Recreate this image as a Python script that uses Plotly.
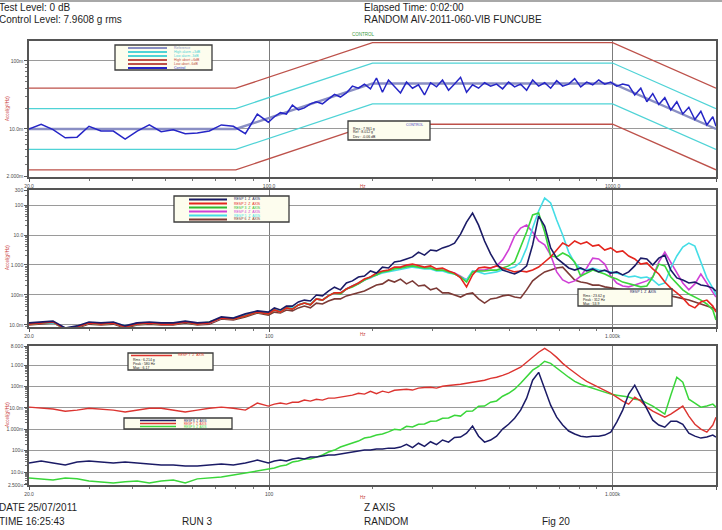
import math
import plotly.graph_objects as go

# ---------------------------------------------------------------------------
# Spectrum frequency lines (Hz) shared by every trace
FREQ_HZ = [20.0, 21.7, 23.5, 25.5, 27.6, 29.9, 32.4, 35.2, 38.1, 41.3,
           44.8, 48.5, 52.6, 57.0, 61.8, 67.0, 72.6, 78.7, 85.3, 92.4,
           99.5, 103.6, 107.9, 112.3, 116.9, 121.7, 126.7, 131.9, 137.3, 143.0,
           148.8, 155.0, 161.3, 167.9, 174.8, 182.0, 189.5, 197.3, 205.4, 213.8,
           222.6, 231.7, 241.3, 251.2, 261.5, 272.2, 283.4, 295.1, 307.2, 319.8,
           333.0, 346.6, 360.9, 375.7, 391.1, 407.2, 423.9, 441.4, 459.5, 478.4,
           498.0, 518.5, 539.8, 562.0, 585.1, 609.1, 634.2, 660.2, 687.4, 715.6,
           745.0, 775.6, 807.5, 840.7, 875.3, 911.2, 948.7, 987.7, 1028, 1070,
           1114, 1160, 1208, 1258, 1309, 1363, 1419, 1477, 1538, 1601,
           1667, 1736, 1807, 1881, 1958, 2000]

# Control channel PSD, dB re 1 g^2/Hz
CONTROL_DB = [-20.0, -19.3, -20.1, -21.3, -21.2, -19.6, -20.3, -20.3, -21.5, -20.3,
              -19.4, -20.4, -20.1, -20.7, -20.6, -20.3, -19.4, -19.6, -20.7, -17.8,
              -19.0, -18.2, -17.6, -17.8, -16.5, -17.2, -16.9, -16.3, -16.0, -16.3,
              -15.6, -14.9, -15.3, -14.7, -13.7, -14.0, -13.4, -14.1, -12.5, -14.6,
              -12.8, -13.7, -14.7, -13.1, -14.0, -13.5, -15.0, -13.2, -13.8, -12.8,
              -14.3, -13.4, -12.4, -14.6, -13.5, -14.0, -13.2, -13.7, -13.4, -14.1,
              -13.1, -13.8, -13.4, -14.3, -12.8, -13.7, -13.2, -14.0, -12.9, -13.7,
              -13.4, -12.6, -13.8, -13.1, -13.5, -12.8, -13.4, -13.1, -13.7, -13.4,
              -13.6, -15.0, -14.0, -16.0, -14.8, -16.4, -15.4, -17.2, -16.0, -17.8,
              -16.8, -18.6, -17.4, -19.4, -18.2, -19.6]

# Test reference profile and tolerance bands
PROFILE_HZ = [20, 80, 200, 1000, 2000]
PROFILE_DB = [-20.0, -20.0, -13.3, -13.3, -20.0]
ALARM_DB = 3.0
ABORT_DB = 6.0

# Response channels, middle plot (dB re 1 g^2/Hz)
MID_NAVY_DB = [-19.3, -19.0, -18.7, -21.0, -20.3, -19.0, -19.3, -19.0, -20.3, -19.3,
               -19.0, -19.3, -19.3, -18.7, -19.3, -19.0, -17.3, -17.7, -16.3, -15.3,
               -15.7, -14.3, -15.0, -13.7, -13.7, -12.3, -11.7, -12.0, -10.0, -10.3,
               -8.7, -7.4, -8.3, -6.0, -5.3, -4.0, -3.7, -2.0, -2.7, -0.7,
               -1.0, 1.0, 1.3, 2.0, 2.7, 4.3, 3.3, 5.0, 4.7, 5.7,
               6.3, 7.3, 10.3, 14.3, 17.3, 13.3, 8.0, 3.7, 0.3, -1.7,
               -2.3, -3.0, -2.0, -0.3, 6.7, 16.3, 13.0, 5.7, 2.3, 0.7,
               -1.0, -1.7, -1.0, -2.0, -1.3, -2.3, -1.7, -2.7, -2.3, -3.3,
               -2.3, -0.3, 2.3, 2.0, 0.0, 2.3, 3.3, -1.7, -4.3, -5.0,
               -6.0, -5.7, -6.7, -7.0, -7.7, -8.7]
MID_RED_DB = [-19.7, -19.3, -19.0, -21.3, -20.7, -19.3, -19.7, -19.3, -20.7, -19.7,
              -19.3, -19.7, -19.7, -19.0, -19.7, -19.3, -17.7, -18.0, -17.0, -15.7,
              -16.3, -15.0, -15.7, -14.3, -14.7, -13.3, -12.7, -13.3, -11.3, -11.7,
              -10.3, -9.3, -9.3, -8.0, -7.0, -6.0, -4.7, -4.0, -2.7, -2.0,
              -1.7, -0.7, -0.7, 0.0, 0.3, -0.3, -0.7, -0.3, -1.3, -1.0,
              -2.0, -2.7, -4.3, -7.3, -3.3, -1.0, -0.7, -1.0, -0.3, -1.0,
              -1.7, -2.3, -2.0, -2.3, -1.7, -0.7, 1.0, 2.7, 5.0, 7.3,
              6.3, 8.0, 7.0, 7.7, 6.3, 6.7, 5.0, 5.7, 4.3, 4.7,
              3.0, 2.0, 0.3, 0.7, -1.3, -3.0, -5.7, -7.7, -9.3, -11.0,
              -13.3, -14.3, -12.3, -11.7, -13.7, -15.7]
MID_CYAN_DB = [-19.7, -19.3, -19.3, -21.0, -20.7, -19.3, -19.7, -19.3, -20.3, -19.7,
               -19.3, -19.7, -19.3, -19.0, -19.7, -19.3, -17.7, -17.7, -16.7, -15.7,
               -16.0, -15.0, -15.3, -14.3, -14.3, -13.3, -12.7, -13.0, -11.3, -11.7,
               -10.3, -9.3, -9.3, -8.0, -7.0, -6.0, -5.0, -4.3, -3.3, -2.7,
               -2.3, -1.7, -1.3, -1.0, -0.7, -1.0, -1.3, -1.3, -2.0, -2.0,
               -2.7, -3.0, -4.0, -5.0, -2.0, -2.3, -3.0, -2.7, -2.3, -1.7,
               -1.3, -0.7, 1.0, 5.7, 12.3, 18.0, 22.3, 20.7, 15.0, 10.0,
               4.3, 0.7, -1.3, -1.7, -1.0, -1.7, -2.0, -2.3, -2.7, -3.3,
               -4.0, -3.7, -4.3, -4.0, -5.0, -6.7, -6.0, -1.0, 3.0, 6.0,
               7.3, 6.3, 1.0, -4.3, -7.7, -10.0]
MID_MAGENTA_DB = [-19.3, -19.3, -19.0, -21.0, -20.7, -19.3, -19.3, -19.3, -20.7, -19.3,
                  -19.3, -19.3, -19.7, -19.0, -19.3, -19.3, -17.7, -18.0, -16.7, -15.7,
                  -16.0, -15.0, -15.7, -14.3, -14.7, -13.3, -12.7, -13.3, -11.3, -11.7,
                  -10.3, -9.3, -9.7, -8.0, -7.0, -6.3, -5.0, -4.0, -3.3, -2.3,
                  -2.0, -1.0, -1.0, -0.3, -0.3, -0.7, -1.0, -1.0, -1.7, -1.7,
                  -2.3, -2.7, -3.7, -5.0, -2.3, -1.7, -1.7, -1.0, -0.3, 1.7,
                  5.0, 9.7, 12.3, 13.3, 11.0, 8.0, 6.7, 3.3, -2.3, -5.0,
                  -6.0, -5.3, -3.7, -1.0, 2.3, 2.0, 0.3, -3.7, -6.0, -7.0,
                  -7.3, -6.7, -6.0, -5.3, -4.0, 1.0, 4.3, 1.0, -2.7, -6.0,
                  -8.3, -6.3, -3.0, -6.0, -9.0, -10.7]
MID_GREEN_DB = [-19.7, -19.3, -19.0, -21.3, -20.7, -19.3, -19.7, -19.3, -20.7, -19.7,
                -19.3, -19.7, -19.7, -19.0, -19.7, -19.0, -17.7, -18.0, -17.0, -15.7,
                -16.3, -15.0, -15.7, -14.3, -14.7, -13.3, -12.7, -13.3, -11.3, -11.7,
                -10.3, -9.3, -9.7, -8.0, -7.3, -6.3, -5.0, -4.0, -3.3, -2.3,
                -2.0, -1.3, -1.0, -0.7, -0.3, -0.7, -1.0, -1.0, -1.7, -1.7,
                -2.3, -3.0, -4.0, -5.7, -2.3, -2.0, -2.0, -1.7, -1.7, -1.0,
                -0.3, 1.0, 6.0, 11.0, 16.7, 17.3, 11.0, 3.0, 2.7, 4.0,
                3.0, 1.0, -3.7, -2.7, -1.7, -2.3, -3.0, -4.0, -4.7, -5.7,
                -6.3, -6.7, -7.3, -7.0, -4.0, 0.3, -0.3, -4.0, -6.3, -8.3,
                -9.7, -10.7, -11.7, -13.0, -15.0, -18.3]
MID_BROWN_DB = [-20.0, -19.7, -19.3, -21.3, -21.0, -19.7, -20.0, -19.7, -21.0, -20.0,
                -19.7, -20.0, -20.0, -19.3, -20.0, -19.7, -18.0, -18.3, -17.3, -16.0,
                -16.7, -15.7, -16.0, -15.0, -15.3, -14.3, -13.7, -14.3, -12.7, -13.0,
                -12.0, -11.3, -11.3, -10.3, -9.7, -9.3, -8.7, -7.7, -6.7, -6.3,
                -5.0, -5.7, -4.7, -6.3, -5.3, -7.0, -6.7, -8.3, -7.7, -9.3,
                -9.3, -10.0, -10.7, -9.7, -9.3, -11.3, -12.7, -11.3, -11.0, -10.3,
                -10.0, -10.7, -11.0, -8.3, -5.3, -3.7, -2.3, -1.7, -1.0, -0.7,
                -3.0, -5.0, -5.7, -6.0, -6.7, -6.7, -7.3, -7.7, -8.0, -8.3,
                -8.3, -8.7, -9.0, -9.0, -9.3, -9.3, -10.0, -10.3, -10.7, -11.3,
                -11.7, -12.3, -13.0, -13.7, -14.3, -15.0]

# Response channels, lower plot (dB re 1 g^2/Hz)
LOW_RED_DB = [-19.6, -20.1, -20.5, -21.5, -21.0, -20.1, -20.5, -21.0, -21.9, -21.0,
              -20.1, -20.1, -21.0, -21.9, -21.0, -20.1, -19.6, -20.1, -21.0, -17.7,
              -19.1, -18.2, -17.7, -18.2, -17.3, -17.3, -16.3, -16.8, -15.9, -16.3,
              -15.4, -15.4, -14.9, -14.5, -14.0, -13.1, -13.5, -12.2, -13.3, -12.1,
              -12.8, -11.7, -11.4, -11.2, -11.6, -10.7, -10.4, -10.3, -10.7, -9.8,
              -9.5, -9.3, -8.9, -8.4, -7.9, -7.5, -7.0, -6.1, -5.6, -4.7,
              -3.7, -2.3, -0.9, 1.4, 3.7, 6.1, 7.9, 6.1, 3.7, 0.9,
              -1.4, -3.7, -5.6, -7.5, -8.9, -10.3, -11.7, -13.1, -14.9, -16.8,
              -18.2, -14.9, -16.8, -19.6, -21.5, -22.9, -24.3, -22.9, -21.0, -19.1,
              -23.8, -27.6, -29.9, -31.3, -28.0, -24.3]
LOW_GREEN_DB = [-52.8, -53.2, -53.7, -52.8, -53.2, -54.2, -54.6, -55.1, -54.6, -54.2,
                -55.1, -54.2, -53.7, -55.1, -53.2, -52.8, -52.3, -51.4, -50.4, -49.5,
                -48.6, -48.1, -47.2, -46.7, -45.3, -44.8, -43.9, -43.9, -43.0, -42.0,
                -40.6, -39.7, -38.3, -37.4, -36.4, -35.5, -34.1, -33.6, -32.7, -32.2,
                -31.2, -30.0, -30.3, -28.6, -28.9, -27.6, -27.5, -26.2, -26.1, -24.8,
                -24.7, -23.4, -23.8, -21.5, -21.4, -19.2, -19.1, -17.3, -16.7, -14.5,
                -13.1, -11.2, -8.4, -5.1, -2.3, -0.5, 1.9, 0.9, -1.4, -3.7,
                -5.6, -7.5, -8.9, -9.8, -10.7, -11.7, -12.6, -13.5, -14.0, -14.5,
                -14.9, -15.9, -16.3, -17.7, -19.1, -21.0, -22.9, -14.0, -5.6, -7.9,
                -15.9, -17.7, -19.6, -19.1, -18.2, -19.6]
LOW_NAVY_DB = [-45.8, -44.8, -45.8, -46.7, -45.3, -44.8, -45.3, -45.8, -45.3, -45.8,
               -46.2, -46.7, -46.7, -47.2, -47.2, -46.7, -46.2, -46.7, -45.8, -44.4,
               -45.8, -44.8, -44.4, -44.8, -43.9, -43.4, -43.9, -43.0, -43.0, -42.5,
               -42.0, -42.0, -41.6, -41.1, -40.6, -40.2, -39.7, -39.7, -39.2, -39.2,
               -38.8, -38.8, -38.3, -37.0, -38.6, -36.5, -38.0, -35.8, -37.2, -35.0,
               -36.0, -33.8, -33.6, -31.8, -28.5, -33.2, -36.0, -35.0, -33.2, -29.9,
               -27.6, -24.8, -21.0, -15.4, -7.0, -3.3, -10.7, -18.7, -24.3, -28.0,
               -30.8, -32.2, -33.2, -33.6, -33.2, -33.2, -32.7, -31.3, -26.6, -21.0,
               -13.5, -9.3, -14.9, -20.5, -25.7, -28.0, -29.0, -26.2, -26.2, -27.6,
               -31.8, -33.2, -34.1, -33.6, -32.7, -33.6]

# Axis tick labels
X_TICKS = [20, 100, 1000, 2000]
X_TEXT_TOP = ["20.0", "100.0", "1000.0", "2000.0"]
X_TEXT = ["20.0", "100", "1.000k", "2.000k"]
Y1_TICKS = [0.002, 0.01, 0.1, 0.2]
Y1_TEXT = ["2.000m", "10.0m", "100m", "200m"]
Y2_TICKS = [0.01, 0.1, 1, 10, 100, 300]
Y2_TEXT = ["10.0m", "100m", "1.000", "10.0", "100", "300"]
Y3_TICKS = [2.5e-6, 1e-5, 1e-4, 1e-3, 0.01, 0.1, 1, 8]
Y3_TEXT = ["2.500u", "10.0u", "100u", "1.000m", "10.0m", "100m", "1.000", "8.000"]

for name, arr in [("CONTROL_DB", CONTROL_DB), ("MID_NAVY_DB", MID_NAVY_DB),
                  ("MID_RED_DB", MID_RED_DB), ("MID_CYAN_DB", MID_CYAN_DB),
                  ("MID_MAGENTA_DB", MID_MAGENTA_DB), ("MID_GREEN_DB", MID_GREEN_DB),
                  ("MID_BROWN_DB", MID_BROWN_DB), ("LOW_RED_DB", LOW_RED_DB),
                  ("LOW_GREEN_DB", LOW_GREEN_DB), ("LOW_NAVY_DB", LOW_NAVY_DB)]:
    assert len(arr) == len(FREQ_HZ), (name, len(arr))


def psd(db_values):
    """dB re 1 g^2/Hz -> g^2/Hz"""
    return [10 ** (d / 10.0) for d in db_values]


# ---------------------------------------------------------------------------
# Page geometry (pixels) -> paper coordinates
W, H = 722, 530
PL, PR, PT, PB = 29, 716, 41, 485


def px(x):
    return (x - PL) / (PR - PL)


def py(y):
    return (PB - y) / (PB - PT)


FONT = "Liberation Sans, Arial, sans-serif"

NAVY = "#1b1b66"
RED = "#e4261e"
GREEN = "#3ad63a"
MAGENTA = "#d040d6"
CYAN = "#44dde6"
BROWN = "#7c3a36"
PROFILE_C = "#8a8fc4"
CONTROL_C = "#2626c6"
ALARM_C = "#4fd3d6"
ABORT_C = "#bd514a"

fig = go.Figure()


def line(x, y, color, width, axis):
    fig.add_trace(go.Scatter(x=x, y=y, mode="lines", xaxis="x" + axis, yaxis="y" + axis,
                             line=dict(color=color, width=width), showlegend=False,
                             hoverinfo="skip"))


# Top plot: control loop
band = lambda off: psd([d + off for d in PROFILE_DB])
line(PROFILE_HZ, band(ABORT_DB), ABORT_C, 1.3, "")
line(PROFILE_HZ, band(-ABORT_DB), ABORT_C, 1.3, "")
line(PROFILE_HZ, band(ALARM_DB), ALARM_C, 1.3, "")
line(PROFILE_HZ, band(-ALARM_DB), ALARM_C, 1.3, "")
line(PROFILE_HZ, band(0.0), PROFILE_C, 2.4, "")
line(FREQ_HZ, psd(CONTROL_DB), CONTROL_C, 1.5, "")

# Middle plot: response channels
line(FREQ_HZ, psd(MID_BROWN_DB), BROWN, 1.6, "2")
line(FREQ_HZ, psd(MID_MAGENTA_DB), MAGENTA, 1.6, "2")
line(FREQ_HZ, psd(MID_CYAN_DB), CYAN, 1.6, "2")
line(FREQ_HZ, psd(MID_GREEN_DB), GREEN, 1.6, "2")
line(FREQ_HZ, psd(MID_RED_DB), RED, 1.6, "2")
line(FREQ_HZ, psd(MID_NAVY_DB), NAVY, 1.6, "2")

# Lower plot
line(FREQ_HZ, psd(LOW_GREEN_DB), GREEN, 1.5, "3")
line(FREQ_HZ, psd(LOW_RED_DB), "#dc3430", 1.4, "3")
line(FREQ_HZ, psd(LOW_NAVY_DB), NAVY, 1.5, "3")

# ---------------------------------------------------------------------------
X_MINOR = [30, 40, 50, 60, 70, 80, 90, 200, 300, 400, 500, 600, 700, 800, 900]


def y_minor(lo, hi):
    return [m * 10.0 ** e for e in range(lo, hi + 1) for m in range(2, 10)]


tickfont = dict(family=FONT, size=5, color="#4a4a4a")


def xaxis(anchor, text):
    return dict(type="log", range=[math.log10(20), math.log10(2000)], anchor=anchor,
                domain=[0, 1], showline=True, mirror=True, linecolor="#555555",
                linewidth=1.6, showgrid=True, gridcolor="#7c7c7c", gridwidth=1.1,
                zeroline=False, tickmode="array", tickvals=X_TICKS, ticktext=text,
                ticks="outside", ticklen=3, tickcolor="#555555", tickfont=tickfont,
                minor=dict(tickmode="array", tickvals=X_MINOR, ticks="outside",
                           ticklen=2, tickcolor="#777777", showgrid=False),
                automargin=False, fixedrange=True)


def yaxis(anchor, top, bottom, rng, vals, text, minor):
    return dict(type="log", range=rng, anchor=anchor, domain=[py(bottom), py(top)],
                showline=True, mirror=True, linecolor="#555555", linewidth=1.6,
                showgrid=True, gridcolor="#9a9a9a", gridwidth=1.4, zeroline=False,
                tickmode="array", tickvals=vals, ticktext=text, ticks="outside",
                ticklen=3, tickcolor="#555555", tickfont=tickfont,
                minor=dict(tickmode="array", tickvals=minor, ticks="outside",
                           ticklen=2, tickcolor="#777777", showgrid=False),
                automargin=False, fixedrange=True)


shapes = []
annotations = []


def box(x0, y0, x1, y1):
    shapes.append(dict(type="rect", xref="paper", yref="paper", x0=px(x0), x1=px(x1),
                       y0=py(y1), y1=py(y0), fillcolor="#fdfdee",
                       line=dict(color="#3c3c3c", width=1.3), layer="above"))


def seg(x0, x1, y, color, width=1.8):
    shapes.append(dict(type="line", xref="paper", yref="paper", x0=px(x0), x1=px(x1),
                       y0=py(y), y1=py(y), line=dict(color=color, width=width),
                       layer="above"))


def text(x, y, s, size, color="#1e1e1e", anchor="left", angle=0):
    annotations.append(dict(xref="paper", yref="paper", x=px(x), y=py(y), text=s,
                            showarrow=False, xanchor=anchor, yanchor="middle",
                            textangle=angle, font=dict(family=FONT, size=size, color=color)))


# Page header / footer
seg(0, W, 1, "#a8a8a8", 2)
text(-3, 8, "Test Level: 0 dB", 10)
text(-3, 20, "Control Level: 7.9608 g rms", 10)
text(362, 8, "Elapsed Time: 0:02:00", 10)
text(362, 20, "RANDOM AIV-2011-060-VIB FUNCUBE", 10)
text(-3, 507, "DATE 25/07/2011", 10)
text(-3, 521, "TIME 16:25:43", 10)
text(180, 521, "RUN 3", 10)
text(362, 507, "Z AXIS", 10)
text(362, 521, "RANDOM", 10)
text(540, 521, "Fig 20", 10)
text(363, 35, "CONTROL", 4.5, "#3c9c3c", "center")

# Axis titles
for yc in (109, 258, 415):
    text(7, yc, "Accel(g²/Hz)", 4.5, "#c83a3a", "center", -90)
for yc in (186, 334, 497):
    text(363, yc, "Hz", 4.5, "#c83a3a", "center")

# Top plot legend
box(115, 45, 212, 70)
top_rows = [("Reference", PROFILE_C), ("High alarm +3dB", ALARM_C),
            ("Low alarm -3dB", ALARM_C), ("High abort +6dB", ABORT_C),
            ("Low abort -6dB", ABORT_C), ("Control", CONTROL_C)]
for i, (lab, col) in enumerate(top_rows):
    yy = 48 + 4 * i
    seg(128, 167, yy, col, 2)
    text(172, yy, lab, 3.5, col)
box(348, 121, 430, 140)
text(404, 124.5, "CONTROL", 3.5, "#3a3ac0")
for i, lab in enumerate(["Rms : 7.961 g", "Ref : 8.012 g", "Dev : -0.06 dB"]):
    text(351, 128.5 + 4 * i, lab, 3.5)

# Middle plot legend
box(174, 196, 289, 222)
mid_rows = [("RESP 1  Z  AXIS", NAVY), ("RESP 2  Z  AXIS", RED), ("RESP 3  Z  AXIS", "#2fb82f"),
            ("RESP 4  Z  AXIS", MAGENTA), ("RESP 5  Z  AXIS", CYAN), ("RESP 6  Z  AXIS", BROWN)]
for i, (lab, col) in enumerate(mid_rows):
    yy = 199.5 + 4 * i
    seg(189, 227, yy, col, 2)
    text(232, yy, lab, 3.5, col)
box(578, 289, 672, 306)
text(628, 291.8, "RESP 1  Z  AXIS", 3.5, NAVY)
for i, lab in enumerate(["Rms : 23.62 g", "Peak : 312 Hz", "Max : 53.9"]):
    text(581, 295.5 + 4 * i, lab, 3.5)

# Lower plot legends
box(128, 353, 213, 370)
seg(131, 172, 355.5, "#dc3430", 1.6)
text(176, 355.5, "RESP 7  Z  AXIS", 3.5, "#dc3430")
for i, lab in enumerate(["Rms : 6.214 g", "Peak : 580 Hz", "Max : 6.17"]):
    text(131, 359.5 + 4 * i, lab, 3.5)
box(124, 418, 232, 429)
for i, (lab, col) in enumerate([("RESP 8  Z  AXIS", NAVY), ("RESP 7  Z  AXIS", "#dc3430"),
                                ("RESP 9  Z  AXIS", GREEN)]):
    yy = 420.5 + 3 * i
    seg(140, 176, yy, col, 1.6)
    text(182, yy, lab, 3, col)

fig.update_layout(
    template="none",
    width=W, height=H, autosize=False,
    margin=dict(l=PL, r=W - PR, t=PT, b=H - PB, pad=0),
    paper_bgcolor="white", plot_bgcolor="white",
    showlegend=False,
    font=dict(family=FONT),
    xaxis=xaxis("y", X_TEXT_TOP),
    xaxis2=xaxis("y2", X_TEXT),
    xaxis3=xaxis("y3", X_TEXT),
    yaxis=yaxis("x", 41, 177, [math.log10(0.002) - 0.007, math.log10(0.2) - 0.007],
                Y1_TICKS, Y1_TEXT, y_minor(-3, -1)),
    yaxis2=yaxis("x2", 190, 327, [-2.067, 2.5], Y2_TICKS, Y2_TEXT, y_minor(-3, 2)),
    yaxis3=yaxis("x3", 346, 485, [-5.607, math.log10(8)], Y3_TICKS, Y3_TEXT, y_minor(-6, 0)),
    shapes=shapes,
    annotations=annotations,
)

fig.write_html("out.html")
